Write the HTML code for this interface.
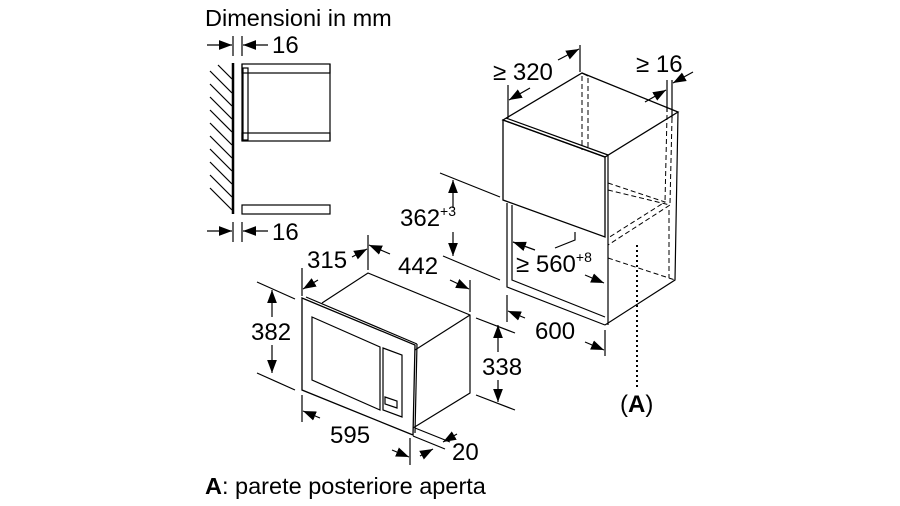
<!DOCTYPE html>
<html><head><meta charset="utf-8"><style>
html,body{margin:0;padding:0;background:#fff;width:900px;height:506px;overflow:hidden}
text{font-family:"Liberation Sans",Arial,sans-serif;fill:#000}
</style></head><body>
<svg width="900" height="506" viewBox="0 0 900 506" xmlns="http://www.w3.org/2000/svg">
<defs>
<marker id="a" viewBox="0 0 12 10" refX="12" refY="5" markerWidth="13" markerHeight="11" markerUnits="userSpaceOnUse" orient="auto"><path d="M0,0.5 L12,5 L0,9.5z" fill="#000"/></marker>
</defs>
<g stroke="#000" fill="none" stroke-width="1.2">
<text x="205" y="26" font-size="23.5" stroke="none">Dimensioni in mm</text>
<!-- side view -->
<line x1="233" y1="63" x2="233" y2="214" stroke-width="2.5"/>
<g stroke-width="1.2">
<line x1="218" y1="65" x2="232" y2="79"/><line x1="210" y1="71" x2="232" y2="93"/><line x1="210" y1="84" x2="232" y2="106"/><line x1="210" y1="97" x2="232" y2="119"/><line x1="210" y1="110" x2="232" y2="132"/><line x1="210" y1="123" x2="232" y2="145"/><line x1="210" y1="136" x2="232" y2="158"/><line x1="210" y1="149" x2="232" y2="171"/><line x1="210" y1="162" x2="232" y2="184"/><line x1="210" y1="175" x2="232" y2="197"/><line x1="210" y1="188" x2="232" y2="210"/>
</g>
<rect x="242" y="64" width="88" height="9"/>
<rect x="242" y="133" width="88" height="8"/>
<rect x="242" y="205" width="88" height="9"/>
<line x1="330" y1="64" x2="330" y2="141"/>
<line x1="242" y1="64" x2="242" y2="141"/>
<rect x="243" y="68" width="5" height="72"/>
<line x1="233" y1="36" x2="233" y2="56"/><line x1="242" y1="36" x2="242" y2="56"/>
<line x1="207" y1="45" x2="232" y2="45" marker-end="url(#a)"/>
<line x1="268" y1="45" x2="243" y2="45" marker-end="url(#a)"/>
<text x="272" y="53" font-size="24" stroke="none">16</text>
<line x1="233" y1="222" x2="233" y2="242"/><line x1="242" y1="222" x2="242" y2="242"/>
<line x1="207" y1="231" x2="232" y2="231" marker-end="url(#a)"/>
<line x1="268" y1="231" x2="243" y2="231" marker-end="url(#a)"/>
<text x="272" y="240" font-size="24" stroke="none">16</text>

<!-- cabinet -->
<path d="M503,120 L582,73 L678,112 L605,157 Z" stroke-width="1.3"/>
<path d="M503,120 L605,157 L605,237 L503,200 Z" stroke-width="1.3"/>
<line x1="506" y1="118" x2="608" y2="155"/>
<line x1="608" y1="155" x2="608" y2="325"/>
<path d="M678,112 L675,280 L605,325"/>
<line x1="672" y1="112" x2="672" y2="118"/>
<path d="M507,203 L507,287 L605,325"/>
<path d="M512,205 L512,280 L605,317"/>
<line x1="582" y1="73" x2="588" y2="76"/>
<g stroke-dasharray="5,3" stroke-width="1">
<line x1="582" y1="76" x2="582" y2="150"/><line x1="588" y1="78" x2="588" y2="150"/>
<line x1="667" y1="115" x2="665" y2="202"/><line x1="672" y1="118" x2="670" y2="203"/>
<path d="M608,183 L665,202 L608,238"/><path d="M608,190 L670,205 L608,245"/>
<path d="M608,258 L675,280"/>
<line x1="669" y1="210" x2="669" y2="278"/>
</g>
<path d="M575,232 L575,240 L555,248"/>
<line x1="637" y1="245" x2="637" y2="387" stroke-dasharray="2,3" stroke-width="2"/>
<text x="620" y="412" font-size="24" stroke="none">(<tspan font-weight="bold">A</tspan>)</text>
<!-- 320 -->
<line x1="508" y1="85" x2="508" y2="118"/><line x1="580" y1="45" x2="580" y2="72"/>
<line x1="530" y1="88" x2="509" y2="100" marker-end="url(#a)"/>
<line x1="558" y1="60" x2="579" y2="49" marker-end="url(#a)"/>
<text x="493" y="80" font-size="24" stroke="none">≥ 320</text>
<!-- 16 -->
<line x1="667" y1="80" x2="667" y2="112"/><line x1="672" y1="80" x2="672" y2="112"/>
<line x1="645" y1="102" x2="666" y2="90" marker-end="url(#a)"/>
<line x1="693" y1="72" x2="673" y2="83" marker-end="url(#a)"/>
<text x="636" y="72" font-size="24" stroke="none">≥ 16</text>
<!-- 362 -->
<line x1="440" y1="173" x2="500" y2="197"/><line x1="443" y1="256" x2="500" y2="280"/>
<line x1="453" y1="208" x2="453" y2="180" marker-end="url(#a)"/>
<line x1="453" y1="232" x2="453" y2="256" marker-end="url(#a)"/>
<text x="400" y="226" font-size="24" stroke="none">362<tspan font-size="14" dy="-10">+3</tspan></text>
<!-- 560 -->
<line x1="535" y1="250" x2="513" y2="242" marker-end="url(#a)"/>
<line x1="585" y1="275" x2="604" y2="283" marker-end="url(#a)"/>
<text x="516" y="272" font-size="24" stroke="none">≥ 560<tspan font-size="14" dy="-10">+8</tspan></text>
<!-- 600 -->
<line x1="507" y1="295" x2="507" y2="322"/><line x1="605" y1="330" x2="605" y2="356"/>
<line x1="525" y1="318" x2="508" y2="311" marker-end="url(#a)"/>
<line x1="585" y1="342" x2="604" y2="350" marker-end="url(#a)"/>
<text x="535" y="339" font-size="24" stroke="none">600</text>

<!-- microwave -->
<path d="M322,303 L368,273 L470,315 L470,393 L413,428"/>
<line x1="415" y1="350" x2="470" y2="315"/>
<path d="M302,298 L415,345 L413,435 L302,390 Z" stroke-width="1.3"/>
<line x1="306" y1="297" x2="417" y2="344"/>
<line x1="417" y1="344" x2="415" y2="433"/>
<path d="M312,317 L380,347 L380,410 L312,380 Z"/>
<path d="M383,348 L402,355 L402,417 L383,410 Z"/>
<path d="M385,397 L397,401 L397,408 L385,404 Z"/>
<!-- 315 -->
<line x1="302" y1="268" x2="302" y2="296"/><line x1="368" y1="235" x2="368" y2="270"/>
<line x1="318" y1="280" x2="303" y2="289" marker-end="url(#a)"/>
<line x1="352" y1="257" x2="367" y2="249" marker-end="url(#a)"/>
<text x="307" y="268" font-size="24" stroke="none">315</text>
<!-- 442 -->
<line x1="470" y1="280" x2="470" y2="312"/>
<line x1="390" y1="254" x2="369" y2="245" marker-end="url(#a)"/>
<line x1="450" y1="280" x2="469" y2="289" marker-end="url(#a)"/>
<text x="398" y="274" font-size="24" stroke="none">442</text>
<!-- 382 -->
<line x1="257" y1="282" x2="295" y2="299"/><line x1="257" y1="373" x2="295" y2="390"/>
<line x1="272" y1="317" x2="272" y2="290" marker-end="url(#a)"/>
<line x1="272" y1="345" x2="272" y2="373" marker-end="url(#a)"/>
<text x="251" y="340" font-size="24" stroke="none">382</text>
<!-- 338 -->
<line x1="476" y1="318" x2="515" y2="333"/><line x1="476" y1="395" x2="515" y2="410"/>
<line x1="498" y1="352" x2="498" y2="325" marker-end="url(#a)"/>
<line x1="498" y1="380" x2="498" y2="402" marker-end="url(#a)"/>
<text x="482" y="375" font-size="24" stroke="none">338</text>
<!-- 595 -->
<line x1="302" y1="395" x2="302" y2="422"/><line x1="410" y1="438" x2="410" y2="465"/>
<line x1="320" y1="418" x2="303" y2="411" marker-end="url(#a)"/>
<line x1="392" y1="450" x2="409" y2="457" marker-end="url(#a)"/>
<text x="330" y="443" font-size="24" stroke="none">595</text>
<!-- 20 -->
<line x1="413" y1="436" x2="445" y2="449"/><line x1="415" y1="428" x2="450" y2="442"/>
<line x1="420" y1="456" x2="433" y2="449" marker-end="url(#a)"/>
<line x1="457" y1="434" x2="443" y2="442" marker-end="url(#a)"/>
<text x="452" y="460" font-size="24" stroke="none">20</text>

<text x="205" y="494" font-size="23.5" stroke="none"><tspan font-weight="bold">A</tspan>: parete posteriore aperta</text>
</g>
</svg>
</body></html>
